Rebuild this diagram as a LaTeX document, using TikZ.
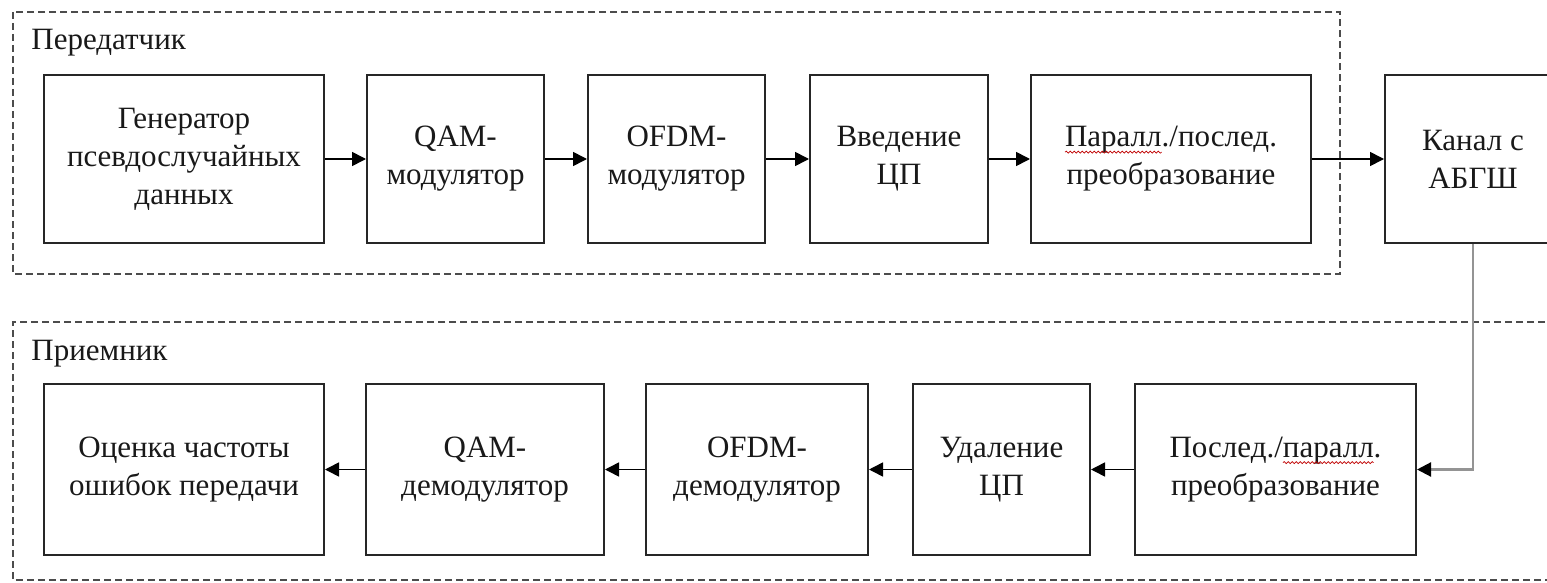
\documentclass[tikz,border=0pt]{standalone}
\usepackage{fontspec}
\setmainfont{Liberation Serif}
\usetikzlibrary{arrows.meta,decorations.pathmorphing}
\newlength\wavylen
\newcommand\spellerr[1]{\settowidth\wavylen{#1}\rlap{#1}\tikz[baseline=0pt]{\path[draw=none,fill=none] (0pt,0pt) -- (\wavylen,0pt); \draw[overlay, draw=red!75!black, fill=none, line width=0.35pt, decorate, decoration={snake,amplitude=0.5pt,segment length=2pt}] (0pt,-2.6pt) -- (\wavylen,-2.6pt);}}
\tikzset{
  blk/.style={draw=black!85, line width=1pt, fill=white, align=center, inner sep=0pt,
    font=\fontsize{15.5pt}{19pt}\selectfont, text=black!90},
  toprow/.style={minimum height=84pt},
  botrow/.style={minimum height=85.5pt},
  arr/.style={draw=black, line width=0.8pt, -{Triangle[length=7pt,width=7pt]}},
  grayarr/.style={draw=black!42, line width=1.1pt, -{Triangle[length=7pt,width=7pt,color=black,fill=black]}},
  group/.style={draw=black!70, line width=0.6pt, dash pattern=on 3.5pt off 2pt},
  grouplabel/.style={anchor=base west, inner sep=0pt, font=\fontsize{15.5pt}{18pt}\selectfont, text=black!90}
}
\begin{document}
\begin{tikzpicture}[x=0.5pt,y=-0.5pt]
\useasboundingbox (0,0) rectangle (1547,583);
\clip (0,0) rectangle (1547,583);
\fill[white] (0,0) rectangle (1547,583);
% groups
\draw[group] (13,12) rectangle (1340,274);
\draw[group] (1600,322) -- (13,322) -- (13,580) -- (1600,580);
\node[grouplabel] (lt) at (31,50) {Передатчик};
\node[grouplabel] (lr) at (31,360) {Приемник};
% top row
\node[blk,toprow,minimum width=140pt] (gen) at (184,159) {Генератор\\псевдослучайных\\данных};
\node[blk,toprow,minimum width=88.5pt] (qam) at (455.5,159) {QAM-\\модулятор};
\node[blk,toprow,minimum width=88.5pt] (ofdm) at (676.5,159) {OFDM-\\модулятор};
\node[blk,toprow,minimum width=89pt] (vved) at (899,159) {Введение\\ЦП};
\node[blk,toprow,minimum width=140pt] (par) at (1171,159) {\spellerr{Паралл}./послед.\\преобразование};
\node[blk,toprow,minimum width=88pt] (kan) at (1473,159) {Канал с\\АБГШ};
% bottom row
\node[blk,botrow,minimum width=140pt] (ots) at (184,469.5) {Оценка частоты\\ошибок передачи};
\node[blk,botrow,minimum width=119pt] (qamd) at (485,469.5) {QAM-\\демодулятор};
\node[blk,botrow,minimum width=111pt] (ofdmd) at (757,469.5) {OFDM-\\демодулятор};
\node[blk,botrow,minimum width=88.5pt] (udal) at (1001.5,469.5) {Удаление\\ЦП};
\node[blk,botrow,minimum width=140.5pt] (posl) at (1275.5,469.5) {Послед./\spellerr{паралл}.\\преобразование};
% connectors
\draw[arr] (gen) -- (qam);
\draw[arr] (qam) -- (ofdm);
\draw[arr] (ofdm) -- (vved);
\draw[arr] (vved) -- (par);
\draw[arr] (par) -- (kan);
\draw[grayarr] (kan.south) |- (posl.east);
\draw[arr] (posl) -- (udal);
\draw[arr] (udal) -- (ofdmd);
\draw[arr] (ofdmd) -- (qamd);
\draw[arr] (qamd) -- (ots);
\end{tikzpicture}
\end{document}
